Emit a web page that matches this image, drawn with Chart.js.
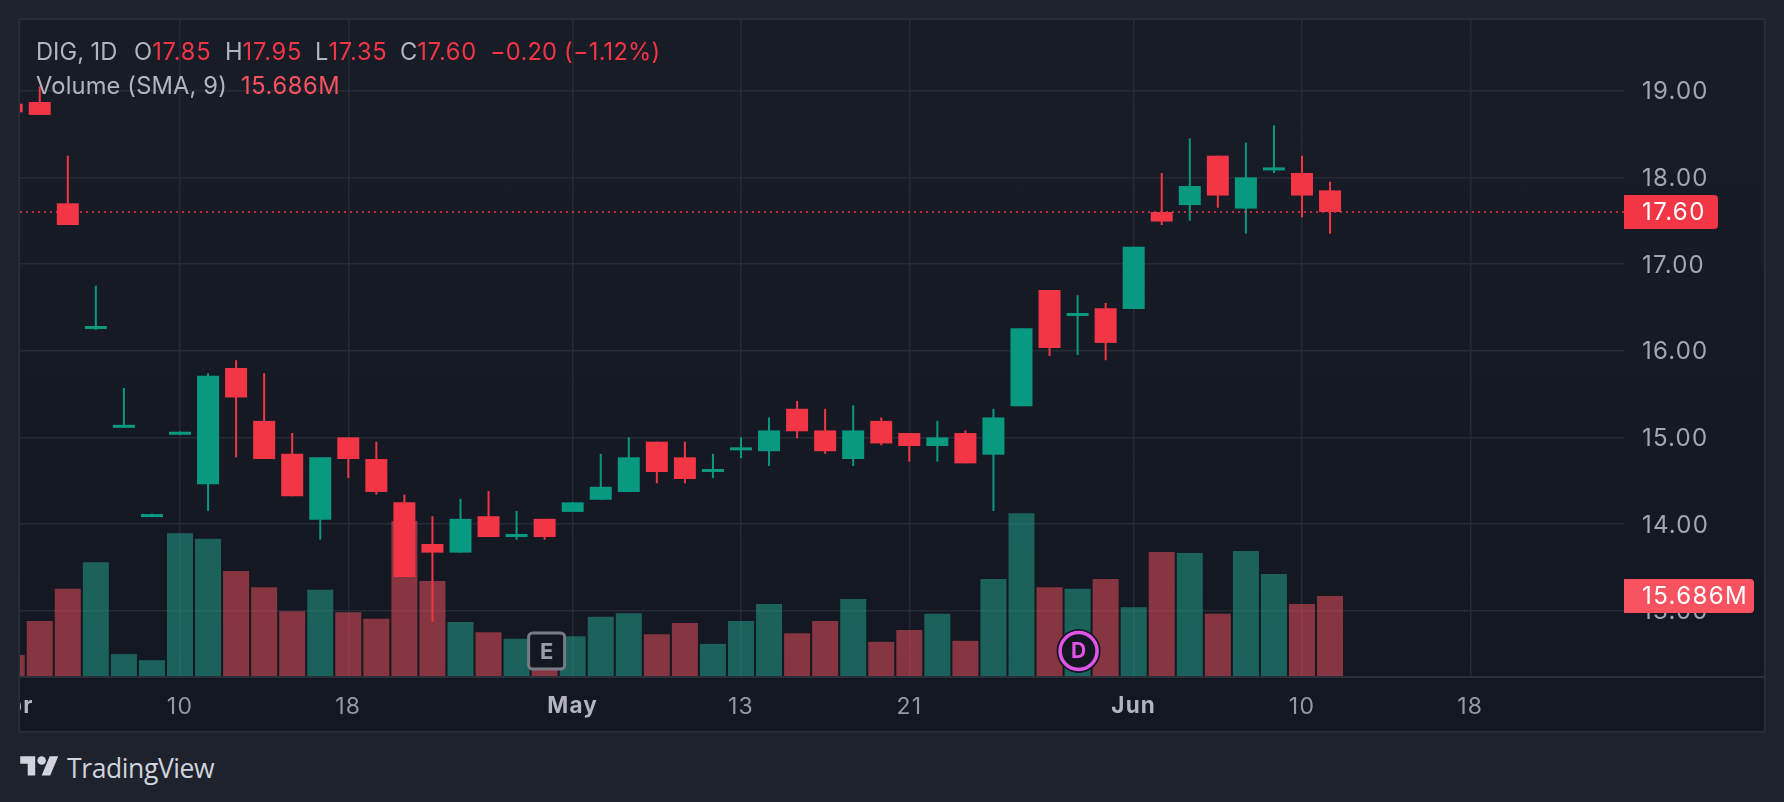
<!DOCTYPE html>
<html>
<head>
<meta charset="utf-8">
<script src="https://cdn.jsdelivr.net/npm/chart.js@4/dist/chart.umd.min.js"></script>
<style>
html,body{margin:0;padding:0;background:#1e222d;width:1784px;height:802px;overflow:hidden;font-family:Inter,sans-serif}
#panel{position:absolute;left:20px;top:20px;width:1744px;height:711px;background:linear-gradient(#181c27,#131722);box-shadow:0 0 0 1.5px #2a2e39}
#wrap{position:absolute;left:0;top:0;width:1744px;height:711px}
#axisline{position:absolute;left:0;top:656px;width:1744px;height:2px;background:#2a2e39}
.lg{position:absolute;font-size:23.7px;line-height:28px;white-space:pre;color:#b2b5be}
.vl{letter-spacing:.15px}
.r{color:#f23645;letter-spacing:.75px}
.c{color:#f23645;letter-spacing:.2px}
.v{color:#f7525f;letter-spacing:.6px}
#logo{position:absolute;left:20px;top:752px}
#brand{position:absolute;left:67px;top:750px;font-size:26.5px;line-height:36px;color:#d1d4dc;font-family:"Open Sans",sans-serif;letter-spacing:-.4px}
</style>
</head>
<body>
<div id="panel">
  <div id="wrap"><canvas id="c" width="1744" height="711"></canvas></div>
  <div id="axisline"></div>
</div>
<div class="lg" style="left:36px;top:38px">DIG, 1D</div>
<div class="lg" style="left:134px;top:38px">O<span class="r">17.85</span></div>
<div class="lg" style="left:225px;top:38px">H<span class="r">17.95</span></div>
<div class="lg" style="left:315px;top:38px">L<span class="r">17.35</span></div>
<div class="lg" style="left:400px;top:38px">C<span class="r">17.60</span></div>
<div class="lg c" style="left:490px;top:38px">−0.20 (−1.12%)</div>
<div class="lg vl" style="left:36px;top:72px">Volume (SMA, 9)</div>
<div class="lg v" style="left:241px;top:72px">15.686M</div>
<svg id="logo" width="39" height="30" viewBox="0 0 36 28"><path fill="#d1d4dc" d="M14 22H7V11H0V4h14v18zM28 22h-8l7.5-18h8L28 22z"/><circle fill="#d1d4dc" cx="20" cy="8" r="4"/></svg>
<div id="brand">TradingView</div>
<script>
const opens  = [18.85,18.87,17.70,16.25,15.11,14.08,15.03,14.46,15.80,15.19,14.81,14.05,15.00,14.75,14.25,13.77,13.67,14.09,13.85,14.06,14.14,14.28,14.37,14.95,14.77,14.60,14.85,14.84,15.33,15.08,14.75,15.19,15.05,14.90,15.05,14.80,15.36,16.70,16.40,16.49,16.48,17.60,17.68,18.25,17.64,18.08,18.05,17.85];
const highs  = [18.85,19.05,18.25,16.75,15.57,14.12,15.07,15.74,15.89,15.74,15.05,14.77,15.00,14.95,14.34,14.09,14.29,14.38,14.15,14.06,14.25,14.81,15.00,14.95,14.95,14.81,15.00,15.23,15.42,15.33,15.37,15.23,15.05,15.19,15.08,15.33,16.26,16.70,16.64,16.55,17.20,18.05,18.45,18.25,18.40,18.60,18.25,17.95];
const lows   = [18.75,18.72,17.45,16.24,15.11,14.08,15.03,14.15,14.77,14.75,14.32,13.82,14.53,14.34,13.39,12.87,13.67,13.85,13.82,13.82,14.14,14.28,14.37,14.47,14.47,14.53,14.76,14.67,14.99,14.81,14.67,14.91,14.72,14.72,14.70,14.15,15.36,15.94,15.95,15.89,16.48,17.45,17.50,17.65,17.35,18.05,17.54,17.35];
const closes = [18.75,18.72,17.45,16.285,15.145,14.115,15.065,15.71,15.46,14.75,14.32,14.77,14.75,14.37,13.39,13.67,14.06,13.85,13.885,13.85,14.25,14.43,14.77,14.60,14.52,14.635,14.885,15.08,15.07,14.84,15.08,14.93,14.90,15.00,14.70,15.23,16.26,16.03,16.435,16.09,17.20,17.49,17.90,17.79,18.00,18.115,17.79,17.60];
const volumes= [4.1,10.8,17.1,22.3,4.3,3.1,28.0,26.9,20.6,17.4,12.7,16.9,12.5,11.2,30.4,18.6,10.6,8.6,7.3,5.9,7.8,11.6,12.3,8.2,10.4,6.3,10.8,14.1,8.4,10.8,15.1,6.7,9.0,12.2,6.9,19.0,31.9,17.4,17.1,19.0,13.5,24.3,24.1,12.2,24.5,20.0,14.1,15.7];
const dateTickIndex = [0,6,12,20,26,32,40,46,52];
const dateTickLabel = ["Apr","10","18","May","13","21","Jun","10","18"];
const monthLabels = ["Apr","May","Jun"];
const priceTicks = [13,14,15,16,17,18,19];
const lastPrice = 17.60;
const lastVolume = 15.686;
const earningsIndex = 19;
const dividendIndex = 38;

const UP = "#089981", DOWN = "#f23645";
const idx = opens.map((_, i) => i);
const colors = opens.map((o, i) => closes[i] >= o ? UP : DOWN);
const volColors = opens.map((o, i) => closes[i] >= o ? "rgba(34,171,148,0.5)" : "rgba(247,82,95,0.5)");
const FONT = "Inter, sans-serif";
const GRID = "#262a35";
const XMIN = 0.296, XMAX = 57.48;

const tags = {
  id: "tags",
  beforeDraw(chart) { chart.ctx.letterSpacing = "1.2px"; },
  beforeDatasetsDraw(chart) { chart.ctx.letterSpacing = "0px"; },
  afterDraw(chart) {
    const { ctx, scales: { x, y, vol }, chartArea: a } = chart;
    ctx.save();
    const tag = (cy, w, bg, text) => {
      ctx.fillStyle = bg;
      ctx.beginPath();
      ctx.roundRect(a.right, cy - 17, w, 34, [0, 4, 4, 0]);
      ctx.fill();
      ctx.fillStyle = "#ffffff";
      ctx.font = "24px " + FONT;
      ctx.letterSpacing = "1.4px";
      ctx.textBaseline = "middle";
      ctx.textAlign = "left";
      ctx.fillText(text, a.right + 18, cy + 1);
      ctx.letterSpacing = "0px";
    };
    tag(y.getPixelForValue(lastPrice), 94, DOWN, lastPrice.toFixed(2));
    tag(vol.getPixelForValue(lastVolume), 130, "#f7525f", lastVolume.toFixed(3) + "M");

    // earnings marker
    const ex = x.getPixelForValue(earningsIndex) + 2, my = a.bottom - 25;
    ctx.fillStyle = "#131722";
    ctx.strokeStyle = "#787b86";
    ctx.lineWidth = 3;
    ctx.beginPath();
    ctx.roundRect(ex - 18, my - 18, 36, 36, 4);
    ctx.fill(); ctx.stroke();
    ctx.fillStyle = "#9a9da6";
    ctx.font = "bold 22px " + FONT;
    ctx.textAlign = "center";
    ctx.textBaseline = "middle";
    ctx.fillText("E", ex, my + 1);

    // dividend marker
    const dx = x.getPixelForValue(dividendIndex) + 1;
    ctx.fillStyle = "#131722";
    ctx.beginPath(); ctx.arc(dx, my, 22, 0, Math.PI * 2); ctx.fill();
    ctx.strokeStyle = "#e254e8";
    ctx.lineWidth = 3.5;
    ctx.beginPath(); ctx.arc(dx, my, 18.5, 0, Math.PI * 2); ctx.stroke();
    ctx.fillStyle = "#e254e8";
    ctx.font = "bold 21px " + FONT;
    ctx.fillText("D", dx, my + 1);
    ctx.restore();
  }
};

new Chart(document.getElementById("c"), {
  type: "bar",
  plugins: [tags],
  data: {
    datasets: [
      { label: "Last", type: "line", data: [{ x: XMIN, y: lastPrice }, { x: XMAX, y: lastPrice }], borderColor: DOWN, borderWidth: 1.5, borderDash: [2, 4], pointRadius: 0, yAxisID: "y", order: 0 },
      { label: "Body", data: idx.map(i => ({ x: i, y: [opens[i], closes[i]] })), backgroundColor: colors, barThickness: 22, inflateAmount: 0, grouped: false, yAxisID: "y", order: 1 },
      { label: "Wick", data: idx.map(i => ({ x: i, y: [lows[i], highs[i]] })), backgroundColor: colors, barThickness: 2, inflateAmount: 0, grouped: false, yAxisID: "y", order: 2 },
      { label: "Volume", data: idx.map(i => ({ x: i, y: volumes[i] })), backgroundColor: volColors, barThickness: 26, inflateAmount: 0, grouped: false, yAxisID: "vol", order: 3 }
    ]
  },
  options: {
    responsive: false,
    animation: false,
    devicePixelRatio: 1,
    layout: { padding: 0 },
    plugins: { legend: { display: false }, tooltip: { enabled: false } },
    scales: {
      x: {
        type: "linear", offset: false, min: XMIN, max: XMAX,
        afterBuildTicks(s) { s.ticks = dateTickIndex.map(v => ({ value: v })); },
        afterFit(s) { s.height = 55; s.paddingLeft = 0; s.paddingRight = 0; },
        border: { display: false },
        grid: { color: GRID, lineWidth: 1.5, drawTicks: false, offset: false },
        ticks: {
          autoSkip: false, maxRotation: 0, padding: 17,
          callback(v) { return dateTickLabel[dateTickIndex.indexOf(v)]; },
          color(c) { return monthLabels.includes(dateTickLabel[c.index]) ? "#b2b5be" : "#9598a1"; },
          font(c) { return { family: FONT, size: monthLabels.includes(dateTickLabel[c.index]) ? 22.5 : 23, weight: monthLabels.includes(dateTickLabel[c.index]) ? "bold" : "normal" }; }
        }
      },
      y: {
        position: "right", min: 12.2466, max: 19.8155,
        afterBuildTicks(s) { s.ticks = priceTicks.map(v => ({ value: v })); },
        afterFit(s) {
          s.width = 140; s.paddingTop = 0; s.paddingBottom = 0;
          if (!s._shifted) {
            s._shifted = true;
            const orig = s.drawLabels;
            s.drawLabels = function (a) {
              this.ctx.save();
              this.ctx.translate(0, 1.5);
              orig.call(this, a);
              this.ctx.restore();
            };
          }
        },
        border: { display: false },
        grid: { color: GRID, lineWidth: 1.5, drawTicks: false },
        ticks: { padding: 18, crossAlign: "near", color: "#a3a6af", font: { family: FONT, size: 24 }, callback: v => v.toFixed(2) }
      },
      vol: { display: false, min: 0, max: 128.6 }
    }
  }
});
</script>
</body>
</html>
